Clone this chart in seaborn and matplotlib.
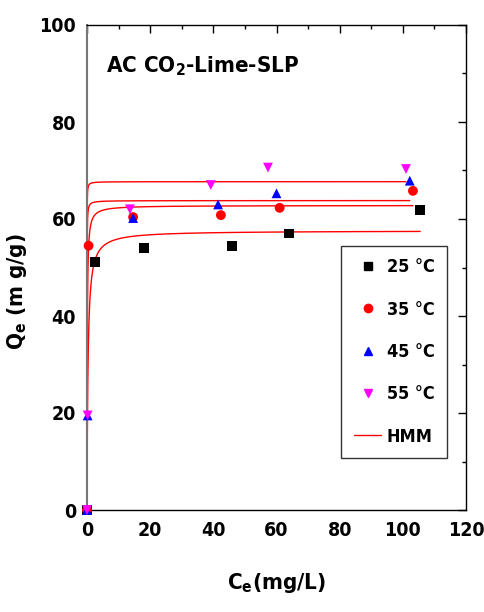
import numpy as np
import pandas as pd
import matplotlib
matplotlib.use("Agg")
import matplotlib.pyplot as plt
from matplotlib.lines import Line2D
from matplotlib.ticker import MultipleLocator
import seaborn as sns

sns.set_theme(style="white")
plt.rcParams["font.family"] = ["DejaVu Sans"]
plt.rcParams["font.stretch"] = "condensed"
plt.rcParams["mathtext.fontset"] = "dejavusans"
plt.rcParams["text.color"] = "black"
plt.rcParams["axes.labelcolor"] = "black"
plt.rcParams["xtick.color"] = "black"
plt.rcParams["ytick.color"] = "black"

# Equilibrium data per temperature
labels = ["25 °C", "35 °C", "45 °C", "55 °C"]
ce_25 = [0.0, 2.5, 18.0, 46.0, 64.0, 105.5]
qe_25 = [0.0, 51.2, 54.1, 54.5, 57.0, 61.9]
ce_35 = [0.0, 0.5, 14.6, 42.4, 61.0, 103.2]
qe_35 = [0.0, 54.5, 60.4, 60.8, 62.3, 65.8]
ce_45 = [0.0, 0.2, 14.6, 41.5, 60.0, 102.2]
qe_45 = [0.0, 19.5, 60.2, 63.0, 65.3, 67.9]
ce_55 = [0.0, 0.2, 13.6, 39.2, 57.3, 101.0]
qe_55 = [0.0, 19.5, 62.0, 67.0, 70.6, 70.3]

# HMM fit parameters: q = qm * C / (K + C)
hmm_qm = [57.6, 62.8, 63.8, 67.7]
hmm_k = [0.30, 0.08, 0.012, 0.006]

colors = ["black", "red", "blue", "magenta"]
markers = ["s", "o", "^", "v"]

ce_all = [ce_25, ce_35, ce_45, ce_55]
qe_all = [qe_25, qe_35, qe_45, qe_55]
df = pd.concat(
    [pd.DataFrame({"Ce": c, "Qe": q, "T": lab}) for c, q, lab in zip(ce_all, qe_all, labels)],
    ignore_index=True,
)

fig = plt.figure(figsize=(4.84, 6.12), dpi=100)
ax = fig.add_axes([87 / 484, 1 - 510 / 612, (466 - 87) / 484, (510 - 25) / 612])

# fitted HMM curves
for c, qm, k in zip(ce_all, hmm_qm, hmm_k):
    x = np.concatenate([np.linspace(0, 2, 400), np.linspace(2, max(c), 400)])
    sns.lineplot(x=x, y=qm * x / (k + x), ax=ax, color="red", lw=1.0, sort=False,
                 estimator=None, legend=False, zorder=2)

sns.scatterplot(data=df, x="Ce", y="Qe", hue="T", style="T",
                palette=dict(zip(labels, colors)), markers=dict(zip(labels, markers)),
                s=50, edgecolor="none", legend=False, ax=ax, zorder=3, clip_on=False)

ax.set_xlim(0, 120)
ax.set_ylim(0, 100)
ax.xaxis.set_major_locator(MultipleLocator(20))
ax.xaxis.set_minor_locator(MultipleLocator(10))
ax.yaxis.set_major_locator(MultipleLocator(20))
ax.yaxis.set_minor_locator(MultipleLocator(10))
ax.tick_params(which="both", direction="in", top=True, right=True, labelsize=14, pad=8)
ax.tick_params(which="major", length=6, width=1)
ax.tick_params(which="minor", length=3, width=1)
for lab in ax.get_xticklabels() + ax.get_yticklabels():
    lab.set_fontweight("bold")
for side in ["top", "right", "bottom"]:
    ax.spines[side].set_color("black")
    ax.spines[side].set_linewidth(1)
ax.spines["left"].set_color("#777777")
ax.spines["left"].set_linewidth(1.5)

ax.set_xlabel(r"C$_{\mathbf{e}}$(mg/L)", fontsize=16, fontweight="bold", labelpad=22)
ax.set_ylabel(r"Q$_{\mathbf{e}}$ (m g/g)", fontsize=16, fontweight="bold")
ax.yaxis.set_label_coords(-0.153, 0.45)

ax.text(0.05, 0.915, r"AC CO$_{\mathbf{2}}$-Lime-SLP", transform=ax.transAxes,
        fontsize=16, fontweight="bold", va="center", ha="left")

handles = [Line2D([], [], ls="none", marker=m, color=c, markersize=6) for m, c in zip(markers, colors)]
handles.append(Line2D([], [], color="red", lw=1))
leg = ax.legend(handles, labels + ["HMM"], loc="upper right", bbox_to_anchor=(0.95, 0.545),
                frameon=True, fancybox=False, edgecolor="black",
                handlelength=1.5, labelspacing=1.35, borderpad=0.7, handletextpad=0.3,
                borderaxespad=0, prop={"weight": "bold", "size": 13, "stretch": "condensed"})
leg.get_frame().set_linewidth(1)

fig.savefig("out.png", dpi=100)
